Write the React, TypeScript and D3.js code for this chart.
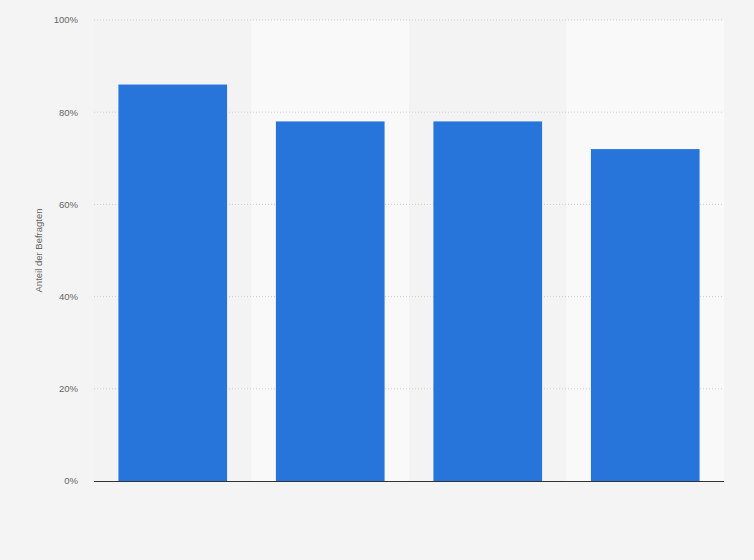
import React from 'react';
import * as d3 from 'd3';

// categories are not labelled in the source, only four bars
const categories = ['1', '2', '3', '4'];
const shares = [86, 78, 78, 72];
const yTicks = [0, 20, 40, 60, 80, 100];

const width = 754;
const height = 560;
const margin = { top: 20, right: 30, bottom: 79, left: 94 };

export default function App() {
    const x = d3.scaleBand<string>()
        .domain(categories)
        .range([margin.left, width - margin.right])
        .paddingInner(0.31)
        .paddingOuter(0.155);
    // column stripes use the same band without padding
    const xCol = d3.scaleBand<string>()
        .domain(categories)
        .range([margin.left, width - margin.right]);
    const y = d3.scaleLinear().domain([0, 100]).range([height - margin.bottom, margin.top]);

    return (
        <svg width={width} height={height}
            style={{ position: 'fixed', left: 0, top: 0, display: 'block', fontFamily: 'Liberation Sans, Arial, sans-serif' }}>
            <rect width={width} height={height} fill="#f4f4f4" />
            {categories.map((c, i) => (
                <rect key={'col' + c} x={xCol(c)} y={margin.top} width={xCol.bandwidth()}
                    height={y(0) - margin.top} fill={i % 2 ? '#f9f9f9' : '#f3f3f3'} />
            ))}
            {yTicks.filter(t => t > 0).map(t => (
                <line key={'g' + t} x1={margin.left} x2={width - margin.right} y1={y(t)} y2={y(t)}
                    stroke="#cfcfcf" strokeWidth={1} strokeDasharray="1,2" />
            ))}
            {yTicks.map(t => (
                <text key={'t' + t} x={margin.left - 16} y={y(t)} dy="0.35em" textAnchor="end"
                    fontSize={9.5} fill="#666">{t}%</text>
            ))}
            <text transform={`translate(42,${(y(0) + y(100)) / 2}) rotate(-90)`} textAnchor="middle"
                fontSize={9.5} fill="#666">Anteil der Befragten</text>
            {categories.map((c, i) => (
                <rect key={'b' + c} x={x(c)} y={y(shares[i])} width={x.bandwidth()}
                    height={y(0) - y(shares[i])} fill="#2775db" />
            ))}
            <line x1={margin.left} x2={width - margin.right} y1={y(0) + 0.5} y2={y(0) + 0.5}
                stroke="#333" strokeWidth={1.2} />
        </svg>
    );
}
